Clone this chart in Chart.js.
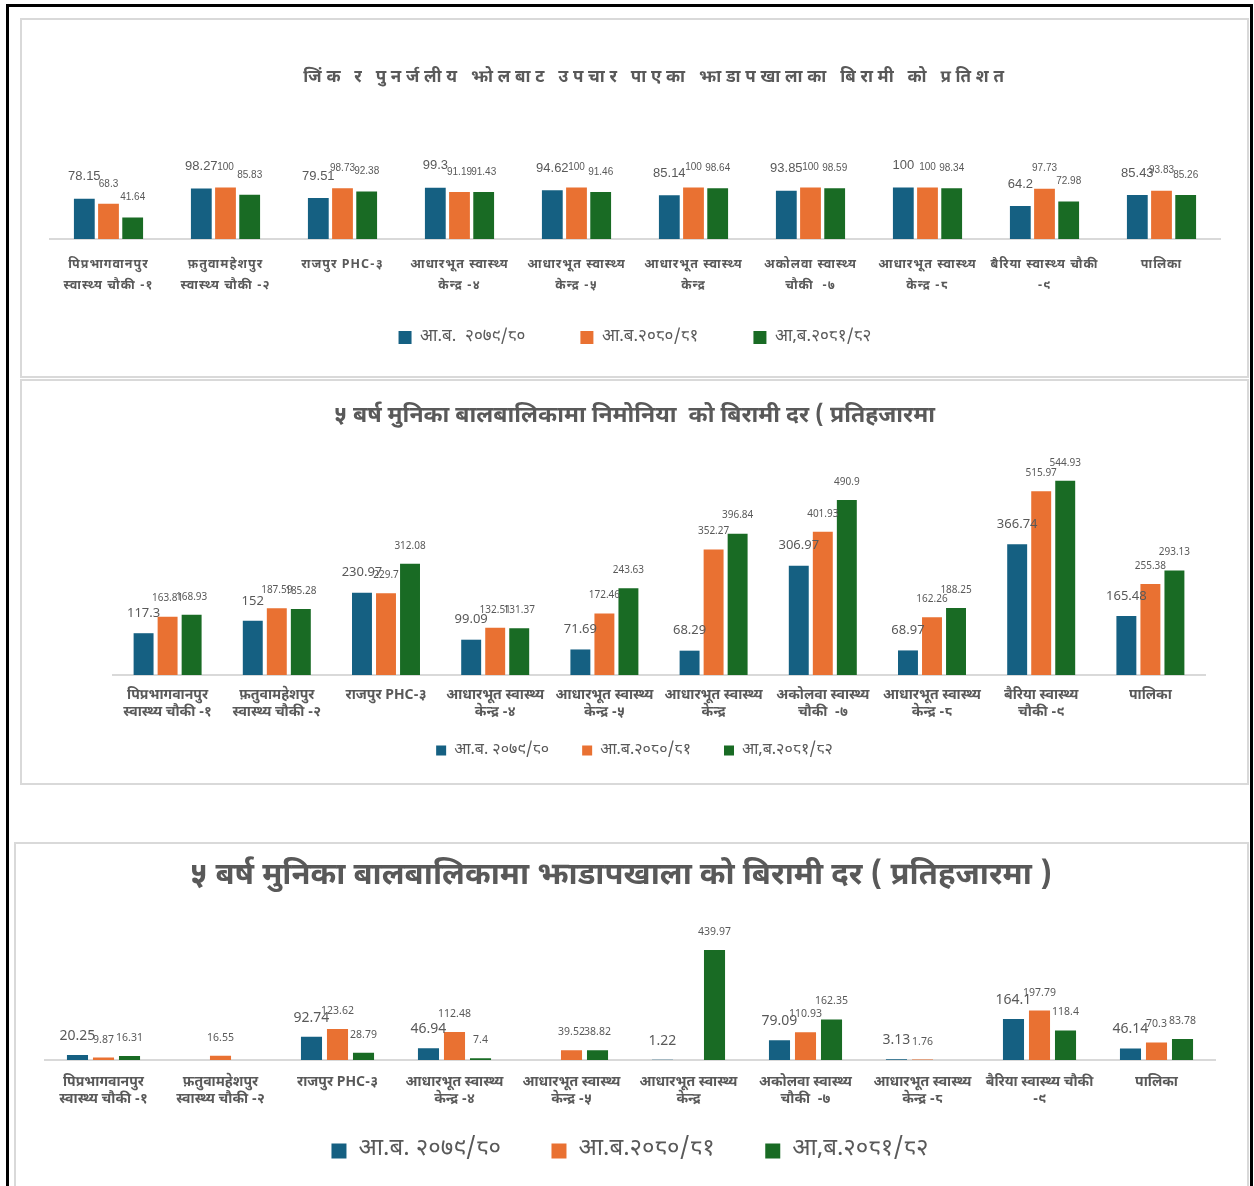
<!DOCTYPE html>
<html lang="ne">
<head>
<meta charset="UTF-8">
<title>स्वास्थ्य सूचक</title>
<script src="https://cdn.jsdelivr.net/npm/chart.js@4.4.1/dist/chart.umd.min.js"></script>
<style>
  body { margin: 0; background: #fff; width: 1254px; height: 1186px; overflow: hidden; position: relative; }
  .frame { position: absolute; left: 6px; top: 4px; width: 1241px; height: 1220px; border: 3px solid #000; border-bottom: none; }
  .panel { position: absolute; border: 2px solid #d9d9d9; background: #fff; }
  .panel canvas { display: block; }
  #p1 { left: 20px; top: 18px; width: 1225px; height: 356px; }
  #p2 { left: 20px; top: 379px; width: 1225px; height: 402px; }
  #p3 { left: 14px; top: 842px; width: 1231px; height: 344px; }
</style>
</head>
<body>
<div class="frame"></div>
<div class="panel" id="p1"><canvas id="zincChart" width="1225" height="356"></canvas></div>
<div class="panel" id="p2"><canvas id="pneuChart" width="1225" height="402"></canvas></div>
<div class="panel" id="p3"><canvas id="diarChart" width="1231" height="344"></canvas></div>

<script>
  // categories (health posts)
  const stations = [
    ['पिप्रभागवानपुर', 'स्वास्थ्य चौकी -१'],
    ['फ़तुवामहेशपुर', 'स्वास्थ्य चौकी -२'],
    'राजपुर PHC-३',
    ['आधारभूत स्वास्थ्य', 'केन्द्र -४'],
    ['आधारभूत स्वास्थ्य', 'केन्द्र -५'],
    ['आधारभूत स्वास्थ्य', 'केन्द्र'],
    ['अकोलवा स्वास्थ्य', 'चौकी  -७'],
    ['आधारभूत स्वास्थ्य', 'केन्द्र -८'],
    ['बैरिया स्वास्थ्य चौकी', '-९'],
    'पालिका'
  ];
  const stationsPneu = stations.slice();
  stationsPneu[8] = ['बैरिया स्वास्थ्य', 'चौकी -९'];

  const years = ['आ.ब. २०७९/८०', 'आ.ब.२०८०/८१', 'आ,ब.२०८१/८२'];
  const yearColors = ['#156082', '#e97132', '#196b24'];

  // जिंक र पुनर्जलीय झोल (%)
  const zinc7980 = [78.15, 98.27, 79.51, 99.3, 94.62, 85.14, 93.85, 100, 64.2, 85.43];
  const zinc8081 = [68.3, 100, 98.73, 91.19, 100, 100, 100, 100, 97.73, 93.83];
  const zinc8182 = [41.64, 85.83, 92.38, 91.43, 91.46, 98.64, 98.59, 98.34, 72.98, 85.26];

  // निमोनिया (प्रतिहजार)
  const pneu7980 = [117.3, 152, 230.97, 99.09, 71.69, 68.29, 306.97, 68.97, 366.74, 165.48];
  const pneu8081 = [163.81, 187.59, 229.7, 132.51, 172.46, 352.27, 401.93, 162.26, 515.97, 255.38];
  const pneu8182 = [168.93, 185.28, 312.08, 131.37, 243.63, 396.84, 490.9, 188.25, 544.93, 293.13];

  // झाडापखाला (प्रतिहजार)
  const diar7980 = [20.25, null, 92.74, 46.94, null, 1.22, 79.09, 3.13, 164.1, 46.14];
  const diar8081 = [9.87, 16.55, 123.62, 112.48, 39.52, null, 110.93, 1.76, 197.79, 70.3];
  const diar8182 = [16.31, null, 28.79, 7.4, 38.82, 439.97, 162.35, null, 118.4, 83.78];

  const devFont = "'Noto Sans Devanagari', 'Nirmala UI', 'Noto Sans', sans-serif";
  const grey = '#595959';

  // value labels over each bar, plus optional letter spacing for title / x labels
  const valueLabels = {
    id: 'valueLabels',
    beforeDraw(chart, args, opts) {
      if (!opts.spacing || chart._spaced) return;
      chart._spaced = true;
      const wrap = (obj, fn, sp) => {
        const orig = obj[fn];
        obj[fn] = function (...a) {
          chart.ctx.letterSpacing = sp;
          orig.apply(this, a);
          chart.ctx.letterSpacing = '0px';
        };
      };
      wrap(chart.titleBlock, 'draw', opts.spacing.title);
      wrap(chart.scales.x, 'drawLabels', opts.spacing.ticks);
    },
    afterDatasetsDraw(chart, args, opts) {
      const ctx = chart.ctx;
      ctx.save();
      ctx.textAlign = 'center';
      ctx.textBaseline = 'middle';
      ctx.fillStyle = grey;
      chart.data.datasets.forEach((ds, i) => {
        const meta = chart.getDatasetMeta(i);
        const f = opts.fonts[i];
        ctx.font = f.font;
        meta.data.forEach((bar, j) => {
          const v = ds.data[j];
          if (v === null) return;
          ctx.fillText(String(v), bar.x, bar.y - f.lift);
        });
      });
      ctx.restore();
    }
  };

  function buildChart(id, c) {
    const datasets = c.series.map((data, i) => ({
      label: c.legend[i],
      data: data,
      backgroundColor: yearColors[i],
      categoryPercentage: c.catPct,
      barPercentage: c.barPct
    }));
    return new Chart(document.getElementById(id), {
      type: 'bar',
      data: { labels: c.labels, datasets: datasets },
      plugins: [valueLabels],
      options: {
        responsive: false,
        animation: false,
        // side padding only moves the centred title; the hidden axes fix the plot edges
        layout: { padding: { top: 0, left: 0, right: c.padR, bottom: c.legendBottom } },
        scales: {
          x: {
            grid: { display: false, drawTicks: false },
            border: { display: true, color: '#d9d9d9', width: 2 },
            ticks: { color: grey, padding: c.tickPad, maxRotation: 0, autoSkip: false,
                     font: { family: devFont, size: c.tickSize, weight: 'bold', lineHeight: c.tickLine } },
            afterFit(s) { s.height = c.xHeight; }
          },
          y: {
            min: 0, max: c.yMax,
            grid: { display: false }, border: { display: false }, ticks: { display: false },
            afterFit(s) { s.width = c.left; }
          },
          y2: {
            position: 'right',
            grid: { display: false }, border: { display: false }, ticks: { display: false },
            afterFit(s) { s.width = c.right; }
          }
        },
        plugins: {
          title: {
            display: true, text: c.title, color: grey,
            font: { family: devFont, size: c.titleSize, weight: 'bold', lineHeight: 1.2 },
            padding: { top: c.titleTop, bottom: c.titleBottom }
          },
          legend: {
            position: 'bottom',
            fullSize: c.legendFull,
            labels: {
              color: grey, boxWidth: c.box, boxHeight: c.box, padding: c.legendGap,
              font: { family: devFont, size: c.legendSize },
              generateLabels(chart) {
                const items = Chart.defaults.plugins.legend.labels.generateLabels(chart);
                items.forEach((it, i) => {
                  if (i < items.length - 1) it.text += '\u2002'.repeat(c.legendSpaces);
                });
                return items;
              }
            }
          },
          tooltip: { enabled: false },
          valueLabels: { fonts: c.valueFonts, spacing: c.spacing }
        }
      }
    });
  }

  buildChart('zincChart', {
    labels: stations,
    legend: ['आ.ब.  २०७९/८०', 'आ.ब.२०८०/८१', 'आ,ब.२०८१/८२'],
    series: [zinc7980, zinc8081, zinc8182],
    title: 'जिंक र पुनर्जलीय झोलबाट उपचार पाएका झाडापखालाका बिरामी को प्रतिशत',
    titleSize: 17, titleTop: 49, titleBottom: 27,
    spacing: { title: '4.7px', ticks: '1px' },
    yMax: 238, left: 28, right: 70, padR: -43,
    catPct: 0.62, barPct: 0.86,
    tickSize: 12.5, tickLine: 1.68, tickPad: 16.5, xHeight: 60.5,
    legendSize: 17, box: 13, legendGap: 29.5, legendSpaces: 3, legendBottom: 20, legendFull: false,
    valueFonts: [
      { font: "13px 'Liberation Sans', Arial, sans-serif", lift: 22 },
      { font: "10px 'Liberation Sans', Arial, sans-serif", lift: 20 },
      { font: "10px 'Liberation Sans', Arial, sans-serif", lift: 20 }
    ]
  });

  buildChart('pneuChart', {
    labels: stationsPneu,
    legend: years,
    series: [pneu7980, pneu8081, pneu8182],
    title: '५ बर्ष मुनिका बालबालिकामा निमोनिया  को बिरामी दर ( प्रतिहजारमा',
    titleSize: 23, titleTop: 23.2, titleBottom: 15.2,
    yMax: 640, left: 91, right: 42, padR: 0,
    catPct: 0.66, barPct: 0.83,
    tickSize: 14, tickLine: 1.214, tickPad: 12.5, xHeight: 50.5,
    legendSize: 16, box: 10, legendGap: 17, legendSpaces: 2, legendBottom: 14.5, legendFull: true,
    valueFonts: [
      { font: "13px 'Noto Sans', sans-serif", lift: 20 },
      { font: "10px 'Noto Sans', sans-serif", lift: 18 },
      { font: "10px 'Noto Sans', sans-serif", lift: 18 }
    ]
  });

  buildChart('diarChart', {
    labels: stations,
    legend: years,
    series: [diar7980, diar8081, diar8182],
    title: '५ बर्ष मुनिका बालबालिकामा झाडापखाला को बिरामी दर ( प्रतिहजारमा )',
    titleSize: 31, titleTop: 15.4, titleBottom: 32,
    yMax: 526, left: 29, right: 11, padR: 21,
    catPct: 0.667, barPct: 0.81,
    tickSize: 14, tickLine: 1.214, tickPad: 14.5, xHeight: 52.5,
    legendSize: 24, box: 15, legendGap: 26.5, legendSpaces: 2, legendBottom: 15, legendFull: false,
    valueFonts: [
      { font: "14px 'Noto Sans', sans-serif", lift: 19 },
      { font: "10.5px 'Noto Sans', sans-serif", lift: 18 },
      { font: "10.5px 'Noto Sans', sans-serif", lift: 18 }
    ]
  });
</script>
</body>
</html>
